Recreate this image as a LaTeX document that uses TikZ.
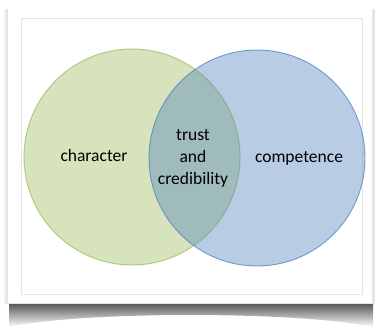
\documentclass[tikz,border=0pt]{standalone}
\usepackage{fontspec}
\setmainfont{Carlito}
\definecolor{ogreen}{RGB}{155,187,89}
\definecolor{oblue}{RGB}{79,129,189}
\definecolor{framegray}{RGB}{228,228,228}
\tikzset{
  venn/.style={circle, minimum size=216pt, inner sep=0pt, line width=0.9pt, draw opacity=0.75},
  lbl/.style={font=\fontsize{17.5}{22}\selectfont, text=black, align=center}
}
\begin{document}
\begin{tikzpicture}[x=1pt,y=-1pt]
\useasboundingbox (0,0) rectangle (375,329);
\fill[white] (0,0) rectangle (375,329);
% curled shadow below the card
\shade[top color=black!70, bottom color=white]
  (9,302) -- (373,302) -- (373,327) .. controls (300,311) and (80,311) .. (9,327) -- cycle;
% side shadows
\fill[black!10] (5,9) rectangle (375,304);
\fill[black!6] (4,10) rectangle (6,303);
% card
\fill[white] (8,8) rectangle (372,303);
\draw[framegray, line width=0.8pt] (21,18) rectangle (362,294);
% circles
\node[venn, fill=ogreen, fill opacity=0.4, draw=ogreen] (ch) at (132,157) {};
\node[venn, fill=oblue, fill opacity=0.4, draw=oblue] (co) at (257,158) {};
% labels
\node[lbl] (tc) at (94,155) {character};
\node[lbl] (tb) at (299,158) {competence};
\node[lbl] (tr) at (193,158) {trust\\and\\credibility};
\end{tikzpicture}
\end{document}
